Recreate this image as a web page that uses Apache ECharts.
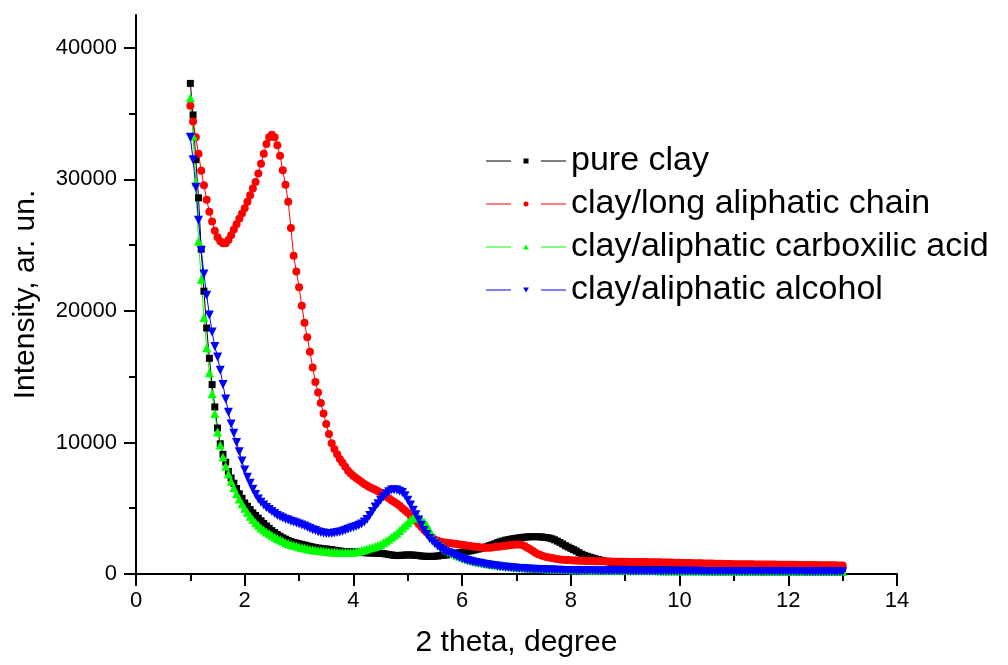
<!DOCTYPE html>
<html>
<head>
<meta charset="utf-8">
<script src="https://cdn.jsdelivr.net/npm/echarts@6/dist/echarts.min.js"></script>
<style>
  html, body { margin: 0; padding: 0; background: #fff; }
  #main { width: 1008px; height: 665px; }
</style>
</head>
<body>
<div id="main"></div>
<script>
// 2 theta positions, degree (one row per degree)
var theta = [
  1.00, 1.05, 1.10, 1.15, 1.20, 1.25, 1.30, 1.35, 1.40, 1.45, 1.50, 1.55, 1.60, 1.65, 1.70, 1.75, 1.80, 1.85, 1.90, 1.95,
  2.00, 2.05, 2.10, 2.15, 2.20, 2.25, 2.30, 2.35, 2.40, 2.45, 2.50, 2.55, 2.60, 2.65, 2.70, 2.75, 2.80, 2.85, 2.90, 2.95,
  3.00, 3.05, 3.10, 3.15, 3.20, 3.25, 3.30, 3.35, 3.40, 3.45, 3.50, 3.55, 3.60, 3.65, 3.70, 3.75, 3.80, 3.85, 3.90, 3.95,
  4.00, 4.05, 4.10, 4.15, 4.20, 4.25, 4.30, 4.35, 4.40, 4.45, 4.50, 4.55, 4.60, 4.65, 4.70, 4.75, 4.80, 4.85, 4.90, 4.95,
  5.00, 5.05, 5.10, 5.15, 5.20, 5.25, 5.30, 5.35, 5.40, 5.45, 5.50, 5.55, 5.60, 5.65, 5.70, 5.75, 5.80, 5.85, 5.90, 5.95,
  6.00, 6.05, 6.10, 6.15, 6.20, 6.25, 6.30, 6.35, 6.40, 6.45, 6.50, 6.55, 6.60, 6.65, 6.70, 6.75, 6.80, 6.85, 6.90, 6.95,
  7.00, 7.05, 7.10, 7.15, 7.20, 7.25, 7.30, 7.35, 7.40, 7.45, 7.50, 7.55, 7.60, 7.65, 7.70, 7.75, 7.80, 7.85, 7.90, 7.95,
  8.00, 8.05, 8.10, 8.15, 8.20, 8.25, 8.30, 8.35, 8.40, 8.45, 8.50, 8.55, 8.60, 8.65, 8.70, 8.75, 8.80, 8.85, 8.90, 8.95,
  9.00, 9.05, 9.10, 9.15, 9.20, 9.25, 9.30, 9.35, 9.40, 9.45, 9.50, 9.55, 9.60, 9.65, 9.70, 9.75, 9.80, 9.85, 9.90, 9.95,
  10.00, 10.05, 10.10, 10.15, 10.20, 10.25, 10.30, 10.35, 10.40, 10.45, 10.50, 10.55, 10.60, 10.65, 10.70, 10.75, 10.80, 10.85, 10.90, 10.95,
  11.00, 11.05, 11.10, 11.15, 11.20, 11.25, 11.30, 11.35, 11.40, 11.45, 11.50, 11.55, 11.60, 11.65, 11.70, 11.75, 11.80, 11.85, 11.90, 11.95,
  12.00, 12.05, 12.10, 12.15, 12.20, 12.25, 12.30, 12.35, 12.40, 12.45, 12.50, 12.55, 12.60, 12.65, 12.70, 12.75, 12.80, 12.85, 12.90, 12.95,
  13.00
]

var pureClay = [
  37300, 34900, 31500, 28600, 24700, 21500, 18700, 16400, 14400, 12700, 11100, 9900, 9100, 8500, 7800, 7300, 6900, 6500, 6100, 5750,
  5400, 5150, 4900, 4650, 4450, 4250, 4050, 3850, 3650, 3470, 3300, 3150, 3000, 2870, 2750, 2650, 2550, 2470, 2400, 2350,
  2300, 2250, 2200, 2150, 2100, 2050, 2000, 1970, 1950, 1920, 1900, 1870, 1850, 1810, 1780, 1750, 1720, 1710, 1700, 1690,
  1680, 1665, 1650, 1635, 1620, 1610, 1600, 1590, 1580, 1575, 1570, 1550, 1520, 1480, 1450, 1420, 1400, 1410, 1430, 1440,
  1450, 1450, 1440, 1420, 1400, 1370, 1350, 1340, 1340, 1340, 1350, 1370, 1400, 1420, 1450, 1470, 1500, 1540, 1580, 1610,
  1650, 1680, 1720, 1760, 1800, 1850, 1900, 1950, 2000, 2070, 2150, 2220, 2300, 2380, 2450, 2510, 2570, 2610, 2650, 2690,
  2720, 2750, 2780, 2800, 2820, 2830, 2840, 2840, 2830, 2820, 2800, 2770, 2740, 2680, 2600, 2500, 2400, 2280, 2150, 2050,
  1950, 1850, 1750, 1620, 1500, 1420, 1350, 1280, 1220, 1160, 1100, 1050, 1000, 960, 920, 880, 850, 810, 780, 750,
  730, 710, 690, 670, 650, 635, 620, 605, 590, 580, 570, 560, 550, 540, 530, 520, 510, 505, 500, 495,
  490, 488, 487, 485, 484, 482, 481, 479, 478, 476, 475, 473, 472, 470, 469, 467, 466, 464, 463, 461,
  460, 459, 458, 457, 456, 455, 454, 453, 452, 451, 450, 449, 448, 447, 446, 445, 444, 443, 442, 441,
  440, 439, 439, 438, 438, 437, 437, 436, 436, 435, 435, 434, 434, 433, 433, 432, 432, 431, 431, 430,
  430
]

var longChain = [
  35600, 34400, 33200, 31950, 30650, 29550, 28450, 27550, 26800, 26100, 25600, 25300, 25150, 25150, 25400, 25750, 26200, 26600, 27000, 27400,
  27800, 28300, 28800, 29300, 29800, 30450, 31200, 31950, 32700, 33200, 33400, 33200, 32600, 31800, 30700, 29600, 28300, 26300, 24200, 23000,
  21800, 20400, 19100, 18000, 16900, 15700, 14600, 13800, 13000, 12200, 11400, 10650, 9950, 9500, 9100, 8750, 8450, 8150, 7850, 7650,
  7450, 7300, 7150, 7000, 6850, 6720, 6600, 6500, 6400, 6300, 6200, 6050, 5900, 5750, 5600, 5480, 5350, 5180, 5000, 4830,
  4650, 4450, 4250, 4030, 3800, 3580, 3350, 3150, 2950, 2770, 2600, 2520, 2450, 2410, 2380, 2350, 2330, 2300, 2280, 2250,
  2220, 2190, 2150, 2120, 2100, 2070, 2050, 2020, 2000, 2000, 2000, 2020, 2050, 2070, 2100, 2120, 2150, 2170, 2200, 2230,
  2250, 2240, 2200, 2120, 2000, 1880, 1750, 1620, 1500, 1420, 1350, 1300, 1250, 1210, 1170, 1140, 1110, 1090, 1070, 1055,
  1040, 1030, 1020, 1010, 1000, 995, 990, 985, 980, 975, 970, 965, 960, 955, 950, 945, 940, 935, 930, 928,
  925, 922, 920, 918, 915, 912, 910, 908, 905, 902, 900, 895, 890, 885, 880, 875, 870, 865, 860, 855,
  850, 845, 840, 835, 830, 825, 820, 815, 810, 805, 800, 795, 790, 785, 780, 775, 770, 765, 760, 755,
  750, 748, 745, 743, 740, 738, 735, 733, 730, 728, 725, 723, 720, 718, 715, 713, 710, 708, 705, 703,
  700, 698, 695, 693, 690, 688, 685, 683, 680, 678, 675, 673, 670, 668, 665, 663, 660, 658, 655, 653,
  650
]

var carboxAcid = [
  36200, 33300, 29800, 25300, 22400, 19500, 17200, 15300, 13700, 12200, 10800, 9800, 8900, 8200, 7600, 7050, 6550, 6100, 5700, 5350,
  5000, 4700, 4400, 4150, 3900, 3700, 3500, 3350, 3200, 3070, 2950, 2820, 2700, 2600, 2500, 2400, 2320, 2250, 2180, 2120,
  2070, 2020, 1970, 1920, 1880, 1850, 1820, 1790, 1760, 1740, 1720, 1700, 1680, 1665, 1650, 1640, 1630, 1630, 1630, 1640,
  1660, 1690, 1730, 1790, 1850, 1910, 1980, 2040, 2100, 2170, 2250, 2370, 2500, 2650, 2800, 2950, 3100, 3300, 3500, 3700,
  3900, 4100, 4250, 4330, 4300, 4150, 3950, 3700, 3350, 2950, 2600, 2400, 2200, 2050, 1900, 1770, 1650, 1550, 1450, 1370,
  1290, 1220, 1150, 1090, 1030, 980, 930, 890, 850, 815, 780, 750, 720, 695, 670, 645, 620, 600, 580, 560,
  540, 520, 500, 485, 470, 455, 440, 430, 420, 410, 400, 390, 380, 372, 365, 358, 350, 345, 340, 335,
  330, 325, 320, 318, 315, 312, 310, 308, 305, 302, 300, 298, 295, 292, 290, 288, 285, 282, 280, 278,
  275, 273, 270, 269, 268, 266, 265, 264, 262, 261, 260, 259, 258, 256, 255, 254, 252, 251, 250, 249,
  248, 247, 246, 245, 244, 243, 242, 241, 240, 239, 238, 237, 236, 235, 234, 233, 232, 231, 230, 229,
  228, 227, 226, 225, 224, 223, 222, 221, 220, 219, 218, 217, 216, 215, 214, 213, 212, 211, 210, 209,
  208, 207, 206, 205, 204, 203, 202, 201, 200, 199, 198, 197, 196, 195, 194, 193, 192, 191, 190, 189,
  188
]

var alcohol = [
  33200, 31500, 29400, 26900, 24600, 22800, 21200, 19700, 18400, 17300, 16500, 15500, 14400, 13300, 12300, 11400, 10700, 10000, 9300, 8600,
  7900, 7350, 6900, 6450, 6050, 5700, 5450, 5250, 5050, 4900, 4750, 4600, 4450, 4350, 4250, 4170, 4100, 4020, 3950, 3870,
  3800, 3720, 3650, 3550, 3450, 3370, 3300, 3220, 3150, 3110, 3080, 3070, 3080, 3110, 3150, 3200, 3250, 3320, 3400, 3470,
  3550, 3620, 3700, 3800, 3950, 4150, 4450, 4750, 5100, 5350, 5600, 5850, 6100, 6250, 6380, 6400, 6380, 6300, 6200, 5950,
  5600, 5250, 4850, 4500, 4100, 3700, 3300, 3000, 2700, 2500, 2300, 2120, 1950, 1820, 1700, 1620, 1550, 1450, 1350, 1250,
  1150, 1090, 1030, 975, 920, 875, 830, 790, 750, 715, 680, 650, 620, 590, 560, 535, 510, 490, 470, 455,
  440, 425, 410, 395, 380, 370, 360, 350, 340, 330, 320, 312, 305, 298, 290, 285, 280, 275, 270, 265,
  260, 258, 255, 253, 250, 248, 245, 243, 240, 238, 236, 234, 232, 230, 228, 227, 225, 224, 222, 221,
  220, 219, 218, 217, 216, 215, 214, 213, 212, 211, 210, 209, 208, 207, 206, 206, 205, 205, 204, 204,
  203, 203, 202, 202, 201, 201, 200, 200, 199, 199, 198, 198, 197, 197, 196, 196, 195, 195, 194, 194,
  193, 193, 192, 192, 191, 191, 190, 190, 189, 189, 188, 188, 187, 187, 186, 186, 185, 185, 184, 184,
  183, 183, 182, 182, 181, 181, 180, 180, 179, 179, 178, 178, 177, 177, 176, 176, 175, 175, 174, 174,
  173
]

var seriesNames = ['pure clay', 'clay/long aliphatic chain', 'clay/aliphatic carboxilic acid', 'clay/aliphatic alcohol']
var seriesColors = ['#000000', '#ff0000', '#00ff00', '#0000ff']
var yMajor = [0, 10000, 20000, 30000, 40000]
var yMinor = [5000, 15000, 25000, 35000]

var font = 'Liberation Sans, Arial, sans-serif'

// legend icons: line - marker - line, drawn in an 80x5 box
var legLeft = 'M0,2H25V3H0Z '
var legRight = ' M55,2H80V3H55Z'
var legendIcons = [
  'path://' + legLeft + 'M37.5,0H42.5V5H37.5Z' + legRight,
  'path://' + legLeft + 'M37.5,2.5A2.5,2.5 0 1 1 42.5,2.5A2.5,2.5 0 1 1 37.5,2.5Z' + legRight,
  'path://' + legLeft + 'M40,0L42.9,5H37.1Z' + legRight,
  'path://' + legLeft + 'M37.1,0H42.9L40,5Z' + legRight
]

function pairs(ys) {
  return theta.map(function (x, i) { return [x, ys[i]] })
}

function mkSeries(name, ys, color, symbol, size) {
  return {
    name: name,
    type: 'line',
    data: pairs(ys),
    symbol: symbol,
    symbolSize: size,
    color: color,
    itemStyle: { color: color, borderWidth: 0 },
    lineStyle: { color: color, width: 1 },
    yAxisIndex: 0
  }
}

var mychart = echarts.init(document.getElementById('main'))
var option = {
  animation: false,
  backgroundColor: '#fff',
  grid: { left: 136, right: 111, top: 15, bottom: 91 },
  legend: {
    orient: 'vertical',
    left: 481,
    top: 139,
    itemWidth: 80,
    itemHeight: 5,
    itemGap: 9,
    itemStyle: { borderWidth: 0 },
    lineStyle: { width: 0 },
    textStyle: { fontSize: 34, lineHeight: 32, color: '#000', fontFamily: font },
    data: seriesNames.map(function (n, i) {
      return { name: n, icon: legendIcons[i], itemStyle: { color: seriesColors[i], borderWidth: 0 } }
    })
  },
  xAxis: {
    type: 'value',
    min: 0,
    max: 14,
    interval: 2,
    name: '2 theta, degree',
    nameLocation: 'middle',
    nameGap: 54,
    nameTextStyle: { fontSize: 30, color: '#000', fontFamily: font },
    axisLine: { lineStyle: { color: '#000', width: 2 } },
    axisTick: { inside: false, length: 12, lineStyle: { color: '#000', width: 2 } },
    minorTick: { show: true, splitNumber: 2, length: 7, lineStyle: { color: '#000', width: 2 } },
    axisLabel: { fontSize: 22, color: '#000', margin: 16, fontFamily: font },
    splitLine: { show: false }
  },
  yAxis: [{
    type: 'value',
    position: 'left',
    min: 0,
    max: 42500,
    name: 'Intensity, ar. un.',
    nameLocation: 'middle',
    nameGap: 95,
    nameTextStyle: { fontSize: 30, color: '#000', fontFamily: font },
    axisLine: { show: true, lineStyle: { color: '#000', width: 2 } },
    axisTick: { show: true, length: 12, customValues: yMajor, lineStyle: { color: '#000', width: 2 } },
    axisLabel: {
      fontSize: 22, color: '#000', margin: 19, customValues: yMajor, fontFamily: font,
      formatter: function (v) { return String(v) }
    },
    splitLine: { show: false }
  }, {
    // minor ticks only
    type: 'value',
    position: 'left',
    offset: 0,
    min: 0,
    max: 42500,
    axisLine: { show: false },
    axisTick: { show: true, length: 7, customValues: yMinor, lineStyle: { color: '#000', width: 2 } },
    axisLabel: { show: false },
    splitLine: { show: false }
  }],
  series: [
    mkSeries(seriesNames[0], pureClay, seriesColors[0], 'rect', 7),
    mkSeries(seriesNames[1], longChain, seriesColors[1], 'circle', 8),
    mkSeries(seriesNames[2], carboxAcid, seriesColors[2], 'triangle', 9),
    mkSeries(seriesNames[3], alcohol, seriesColors[3], 'path://M0,0L10,0L5,9Z', 9)
  ]
}
mychart.setOption(option)
</script>
</body>
</html>
